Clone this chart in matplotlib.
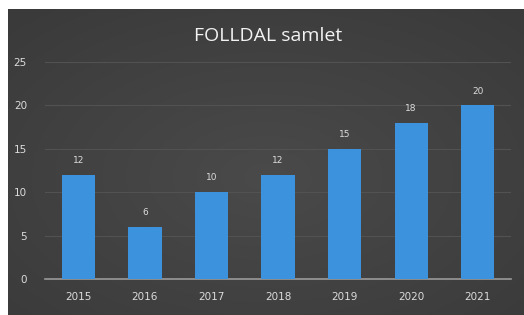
import numpy as np
import matplotlib
matplotlib.use("Agg")
import matplotlib.pyplot as plt

years = ["2015", "2016", "2017", "2018", "2019", "2020", "2021"]
values = [12, 6, 10, 12, 15, 18, 20]
yticks = [0, 5, 10, 15, 20, 25]
title = "FOLLDAL samlet"

W, H = 524, 315
fig = plt.figure(figsize=(W / 100, H / 100), dpi=100)
fig.patch.set_facecolor("white")

# dark background panel with soft radial gradient
bg = fig.add_axes([8 / W, 0, 1 - 8 / W, 1 - 9 / H])
bg.set_axis_off()
yy, xx = np.mgrid[0:1:200j, 0:1:300j]
r = np.sqrt(((xx - 0.5) / 0.7) ** 2 + ((yy - 0.45) / 0.7) ** 2)
shade = 0.29 - 0.06 * np.clip(r, 0, 1)
img = np.dstack([shade, shade, shade])
bg.imshow(img, extent=[0, 1, 0, 1], aspect="auto", origin="lower")

ax = fig.add_axes([45 / W, 36 / H, 466 / W, 217 / H])
ax.set_facecolor("none")
x = np.arange(len(years))
ax.bar(x, values, width=0.5, color="#3c92dc", zorder=3)
ax.set_xlim(-0.5, len(years) - 0.5)
ax.set_ylim(0, 25)
ax.set_yticks(yticks)
ax.set_xticks(x)
ax.set_xticklabels(years)
ax.grid(axis="y", color="#525252", linewidth=0.8, zorder=0)
for s in ["top", "right", "left"]:
    ax.spines[s].set_visible(False)
ax.spines["bottom"].set_color("#9a9a9a")
ax.spines["bottom"].set_linewidth(1.2)
ax.tick_params(axis="both", length=0, colors="#dcdcdc", labelsize=7.5)
ax.tick_params(axis="y", pad=13)
ax.tick_params(axis="x", pad=9)

for xi, v in zip(x, values):
    ax.annotate(str(v), (xi, v), xytext=(0, 7), textcoords="offset points",
                ha="center", va="bottom", color="#dcdcdc", fontsize=6.5)

fig.text(268 / W, 1 - 36 / H, title, ha="center", va="center",
         color="#f2f2f2", fontsize=14, family="Open Sans")

fig.savefig("out.png", dpi=100, facecolor=fig.get_facecolor())
